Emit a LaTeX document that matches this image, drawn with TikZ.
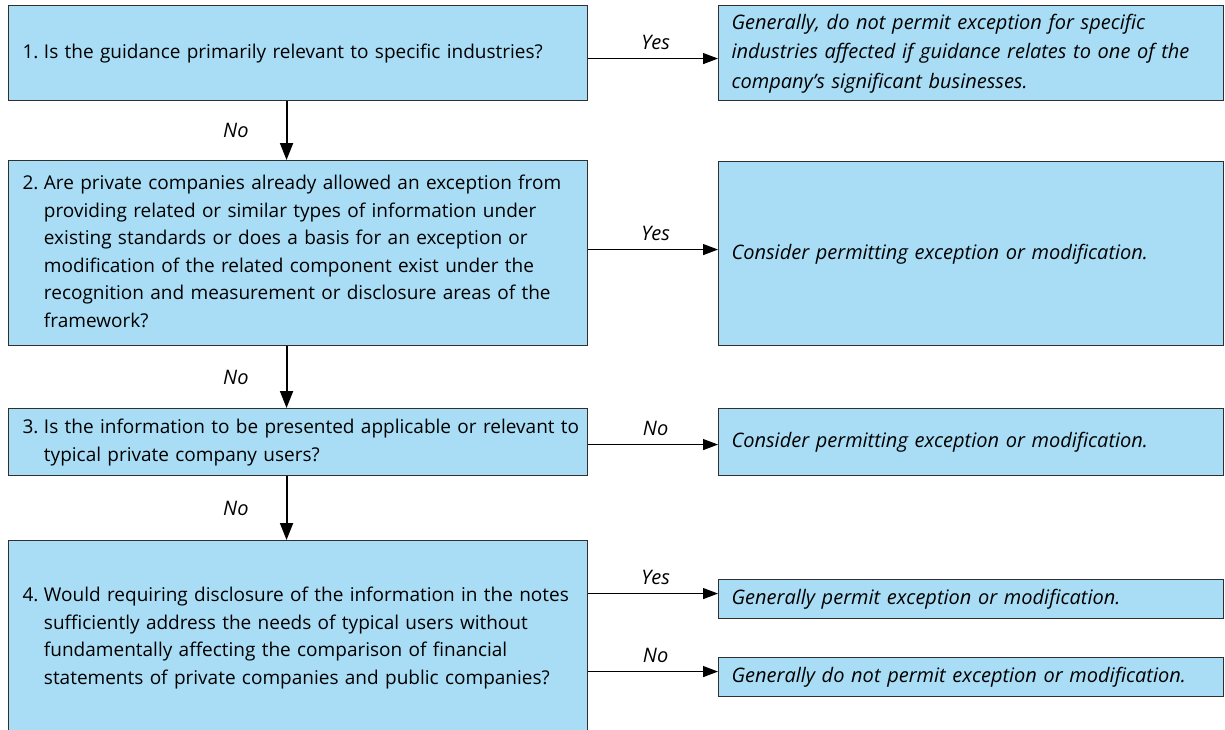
\documentclass[tikz,border=0pt]{standalone}
\usepackage{fontspec}
\setmainfont{Open Sans}
\usetikzlibrary{arrows.meta}
\definecolor{boxblue}{HTML}{A8DDF5}
\definecolor{edgegray}{HTML}{303030}
\newcommand\qlines[2]{\begin{tabular}{@{}l@{}l@{}}#1\hspace*{5.5pt}&#2\end{tabular}}
\newcommand\alines[1]{\raisebox{-2.5pt}{\begin{tabular}{@{}l@{}}#1\end{tabular}}}
\begin{document}
\begin{tikzpicture}[x=1pt,y=-1pt,
  font=\fontsize{19}{27.5}\selectfont,
  lbox/.style={draw=edgegray, line width=1.1pt, fill=boxblue, inner sep=0pt,
    anchor=north west, minimum width=579pt, text width=551pt, align=left},
  rbox/.style={draw=edgegray, line width=1.1pt, fill=boxblue, inner sep=0pt,
    anchor=north west, minimum width=505pt, text width=479pt, align=left, font=\fontsize{20}{29.5}\selectfont\itshape},
  varrow/.style={line width=2pt, -{Triangle[length=17pt,width=13pt]}},
  harrow/.style={line width=1.2pt, -{Triangle[length=15pt,width=11pt]}},
  lab/.style={font=\fontsize{20}{22}\selectfont\itshape, inner sep=0pt}
]
\useasboundingbox (0,0) rectangle (1225,729);
\clip (0,0) rectangle (1225,729);

% left question boxes
\node[lbox, minimum height=95pt] (b1) at (8,5)
  {\qlines{1.}{Is the guidance primarily relevant to specific industries?}};
\node[lbox, minimum height=185pt] (b2) at (8,160)
  {\qlines{2.}{Are private companies already allowed an exception from\\
   &providing related or similar types of information under\\
   &existing standards or does a basis for an exception or\\
   &modification of the related component exist under the\\
   &recognition and measurement or disclosure areas of the\\
   &framework?}};
\node[lbox, minimum height=67pt] (b3) at (8,408)
  {\qlines{3.}{Is the information to be presented applicable or relevant to\\
   &typical private company users?}};
\node[lbox, minimum height=194pt] (b4) at (8,540)
  {\qlines{4.}{Would requiring disclosure of the information in the notes\\
   &sufficiently address the needs of typical users without\\
   &fundamentally affecting the comparison of financial\\
   &statements of private companies and public companies?}};

% right outcome boxes
\node[rbox, minimum height=95pt] (r1) at (718,5)
  {\alines{Generally, do not permit exception for specific\\
   industries affected if guidance relates to one of the\\
   company’s significant businesses.}};
\node[rbox, minimum height=184pt] (r2) at (718,161)
  {\alines{Consider permitting exception or modification.}};
\node[rbox, minimum height=67pt] (r3) at (718,408)
  {\alines{Consider permitting exception or modification.}};
\node[rbox, minimum height=39pt] (r4a) at (718,579)
  {\alines{Generally permit exception or modification.}};
\node[rbox, minimum height=39pt] (r4b) at (718,657)
  {\alines{Generally do not permit exception or modification.}};

% vertical "No" arrows
\draw[varrow] ([xshift=-11.5pt]b1.south) -- ([xshift=-11.5pt]b2.north)
  node[lab, midway, left=37pt] (n1) {No};
\draw[varrow] ([xshift=-11.5pt]b2.south) -- ([xshift=-11.5pt]b3.north)
  node[lab, midway, left=37pt] (n2) {No};
\draw[varrow] ([xshift=-11.5pt]b3.south) -- ([xshift=-11.5pt]b4.north)
  node[lab, midway, left=37pt] (n3) {No};

% horizontal arrows
\draw[harrow] ([yshift=-5.5pt]b1.east) -- ([yshift=-5.5pt]r1.west)
  node[lab, pos=0.52, above=8pt] (y1) {Yes};
\draw[harrow] ([yshift=4pt]r2.west -| b2.east) -- ([yshift=4pt]r2.west)
  node[lab, pos=0.52, above=8pt] (y2) {Yes};
\draw[harrow] ([yshift=-2.5pt]r3.west -| b3.east) -- ([yshift=-2.5pt]r3.west)
  node[lab, pos=0.52, above=8pt] (n4) {No};
\draw[harrow] ([yshift=5.5pt]r4a.west -| b4.east) -- ([yshift=5.5pt]r4a.west)
  node[lab, pos=0.52, above=8pt] (y3) {Yes};
\draw[harrow] ([yshift=5.5pt]r4b.west -| b4.east) -- ([yshift=5.5pt]r4b.west)
  node[lab, pos=0.52, above=8pt] (n5) {No};
\end{tikzpicture}
\end{document}
